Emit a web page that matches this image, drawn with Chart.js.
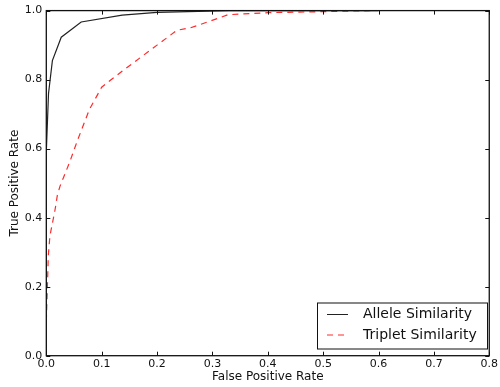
<!DOCTYPE html>
<html lang="en">
<head>
  <meta charset="UTF-8" />
  <title>ROC curves</title>
  <script src="https://cdn.jsdelivr.net/npm/chart.js"></script>
  <style>
    body { margin: 0; background: #fff; }
    #wrap { width: 500px; height: 387px; }
  </style>
</head>
<body>
  <div id="wrap"><canvas id="roc"></canvas></div>
  <script>
    // values
    const seriesNames = ["Allele Similarity", "Triplet Similarity"];
    const fprAllele = [0, 0, 0.004, 0.011, 0.027, 0.063, 0.137, 0.2, 0.33, 0.6];
    const tprAllele = [0, 0.59, 0.76, 0.855, 0.923, 0.967, 0.987, 0.995, 1.0, 1.0];
    const fprTriplet = [0, 0.002, 0.0036, 0.0066, 0.0155, 0.02, 0.0245, 0.042, 0.057, 0.078, 0.1,
                        0.114, 0.1375, 0.2, 0.236, 0.26, 0.295, 0.328, 0.4, 0.5, 0.59];
    const tprTriplet = [0.1, 0.2, 0.29, 0.348, 0.42, 0.465, 0.49, 0.56, 0.627, 0.714, 0.778,
                        0.796, 0.825, 0.9, 0.943, 0.95, 0.969, 0.988, 0.994, 0.997, 1.0];
    const xTicks = [0, 0.1, 0.2, 0.3, 0.4, 0.5, 0.6, 0.7, 0.8];
    const yTicks = [0, 0.2, 0.4, 0.6, 0.8, 1.0];

    const ink = '#111';
    const red = '#ff2a2a';
    const font = 'DejaVu Sans';

    const toPoints = (xs, ys) => xs.map((x, i) => ({ x: x, y: ys[i] }));

    // matplotlib style frame + inward ticks
    const framePlugin = {
      id: 'frame',
      afterDatasetsDraw(chart) {
        const { ctx, chartArea: a, scales } = chart;
        ctx.save();
        ctx.strokeStyle = ink;
        ctx.lineWidth = 1;
        ctx.beginPath();
        xTicks.forEach(t => {
          const px = Math.round(scales.x.getPixelForValue(t)) + 0.5;
          ctx.moveTo(px, a.bottom); ctx.lineTo(px, a.bottom - 4);
          ctx.moveTo(px, a.top); ctx.lineTo(px, a.top + 4);
        });
        yTicks.forEach(t => {
          const py = Math.round(scales.y.getPixelForValue(t)) + 0.5;
          ctx.moveTo(a.left, py); ctx.lineTo(a.left + 4, py);
          ctx.moveTo(a.right, py); ctx.lineTo(a.right - 4, py);
        });
        ctx.stroke();
        ctx.lineWidth = 1.3;
        ctx.strokeRect(a.left, a.top, a.right - a.left, a.bottom - a.top);
        ctx.restore();
      }
    };

    // legend box in lower right corner
    const legendPlugin = {
      id: 'boxLegend',
      afterDraw(chart) {
        const { ctx } = chart;
        const x0 = 317, y0 = 302.5, w = 170, h = 46;
        ctx.save();
        ctx.fillStyle = '#fff';
        ctx.fillRect(x0, y0, w, h);
        ctx.strokeStyle = ink;
        ctx.lineWidth = 1;
        ctx.strokeRect(x0 + 0.5, y0 + 0.5, w, h);
        chart.data.datasets.forEach((ds, i) => {
          const y = 314 + i * 20.5;
          ctx.beginPath();
          ctx.strokeStyle = ds.borderColor;
          ctx.lineWidth = 1;
          ctx.setLineDash(ds.borderDash || []);
          ctx.moveTo(327, y + 0.5);
          ctx.lineTo(348, y + 0.5);
          ctx.stroke();
          ctx.setLineDash([]);
          ctx.fillStyle = ink;
          ctx.font = '14px "' + font + '"';
          ctx.textBaseline = 'middle';
          ctx.fillText(ds.label, 363, y + 0.5);
        });
        ctx.restore();
      }
    };

    new Chart(document.getElementById('roc'), {
      type: 'scatter',
      data: {
        datasets: [
          {
            label: seriesNames[0],
            data: toPoints(fprAllele, tprAllele),
            showLine: true,
            borderColor: '#222',
            borderWidth: 1.2,
            pointRadius: 0,
            tension: 0
          },
          {
            label: seriesNames[1],
            data: toPoints(fprTriplet, tprTriplet),
            showLine: true,
            borderColor: red,
            borderWidth: 1.2,
            borderDash: [6, 5],
            pointRadius: 0,
            tension: 0
          }
        ]
      },
      options: {
        responsive: true,
        maintainAspectRatio: false,
        animation: false,
        layout: { padding: { top: 9.7, right: 8, left: 0, bottom: 0 } },
        plugins: {
          legend: { display: false },
          tooltip: { enabled: false }
        },
        scales: {
          x: {
            type: 'linear',
            min: 0,
            max: 0.8,
            afterBuildTicks: s => { s.ticks = xTicks.map(v => ({ value: v })); },
            afterFit: s => { s.height = 31.3; },
            ticks: {
              color: ink,
              font: { family: font, size: 11 },
              padding: 2,
              maxRotation: 0,
              callback: v => v.toFixed(1)
            },
            grid: { display: false, drawTicks: false },
            border: { display: false },
            title: {
              display: true,
              text: 'False Positive Rate',
              color: ink,
              font: { family: font, size: 12 },
              padding: { top: 0, bottom: 3 }
            }
          },
          y: {
            type: 'linear',
            min: 0,
            max: 1,
            afterBuildTicks: s => { s.ticks = yTicks.map(v => ({ value: v })); },
            afterFit: s => { s.width = 46.3; },
            ticks: {
              color: ink,
              font: { family: font, size: 11 },
              padding: 4,
              callback: v => v.toFixed(1)
            },
            grid: { display: false, drawTicks: false },
            border: { display: false },
            title: {
              display: true,
              text: 'True Positive Rate',
              color: ink,
              font: { family: font, size: 12 },
              padding: { top: 8, bottom: 0 }
            }
          }
        }
      },
      plugins: [framePlugin, legendPlugin]
    });
  </script>
</body>
</html>
